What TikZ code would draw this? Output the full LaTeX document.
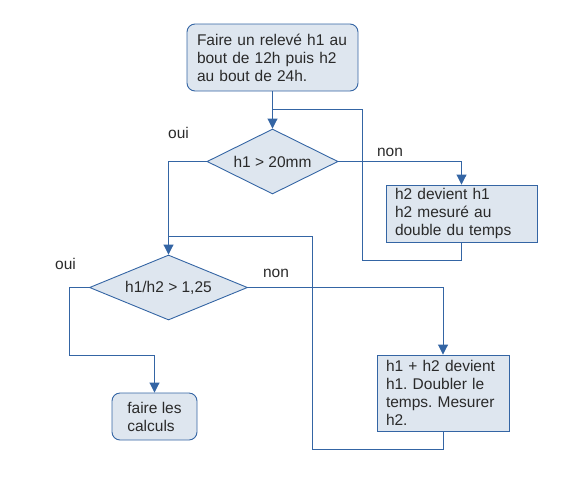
\documentclass[tikz,border=0pt]{standalone}
\usepackage{fontspec}
\setmainfont{Liberation Sans}
\usetikzlibrary{arrows.meta}
\usetikzlibrary{shapes.geometric}
\frenchspacing

\definecolor{flowblue}{HTML}{3465A4}
\definecolor{flowfill}{HTML}{DEE6EF}
\definecolor{flowtext}{HTML}{2A2A2A}

\tikzset{
  termbox/.style  = {draw=flowblue, fill=flowfill, line width=0.9pt, rounded corners=8pt, inner sep=0pt, align=left},
  procbox/.style  = {draw=flowblue, fill=flowfill, line width=0.9pt, inner sep=0pt, align=left},
  decision/.style = {diamond, aspect=2.2, draw=flowblue, fill=flowfill, line width=0.9pt, inner sep=0pt},
  flowline/.style = {draw=flowblue, line width=0.9pt},
  flowarrow/.style = {flowline, -{Triangle[width=10pt,length=10pt]}}
}

\begin{document}
\begin{tikzpicture}[x=1pt, y=-1pt, text=flowtext, font=\fontsize{15.5}{18}\selectfont]
\useasboundingbox (0, 0) rectangle (569, 490);

\node[termbox,  minimum width=171, minimum height=67, text width=151] (start) at (272.5,  57.5) {Faire un relevé h1 au\\bout de 12h puis h2\\au bout de 24h.};
\node[decision, minimum width=131, minimum height=65]                 (d1)    at (272.5, 161.5) {h1 > 20mm};
\node[procbox,  minimum width=151, minimum height=57, text width=133] (h2box) at (461.5, 213.5) {h2 devient h1\\h2 mesuré au\\double du temps};
\node[decision, minimum width=158, minimum height=65]                 (d2)    at (168.5, 287.5) {h1/h2 > 1,25};
\node[procbox,  minimum width=132, minimum height=76, text width=114] (h1box) at (443,   393)   {h1 + h2 devient\\h1. Doubler le\\temps. Mesurer\\h2.};
\node[termbox,  minimum width=85,  minimum height=47]                 (calc)  at (154.5, 416.5) {faire les\\calculs};

\node (oui1) at (178.5, 133) {oui};
\node (non1) at (390,   152) {non};
\node (oui2) at (65.5,  264) {oui};
\node (non2) at (276,   273) {non};

\coordinate (join1) at (272.5, 109);
\coordinate (join2) at (168.5, 236);

\draw[flowarrow] (start.south) -- (d1.north);
\draw[flowarrow] (d1.east)     -| (h2box.north);
\draw[flowline]  (h2box.south) |- (362, 260) |- (join1);
\draw[flowarrow] (d1.west)     -| (d2.north);
\draw[flowarrow] (d2.east)     -| (h1box.north);
\draw[flowline]  (h1box.south) |- (312, 449) |- (join2);
\draw[flowarrow] (d2.west)     -| (69, 355) -| (calc.north);
\end{tikzpicture}
\end{document}
